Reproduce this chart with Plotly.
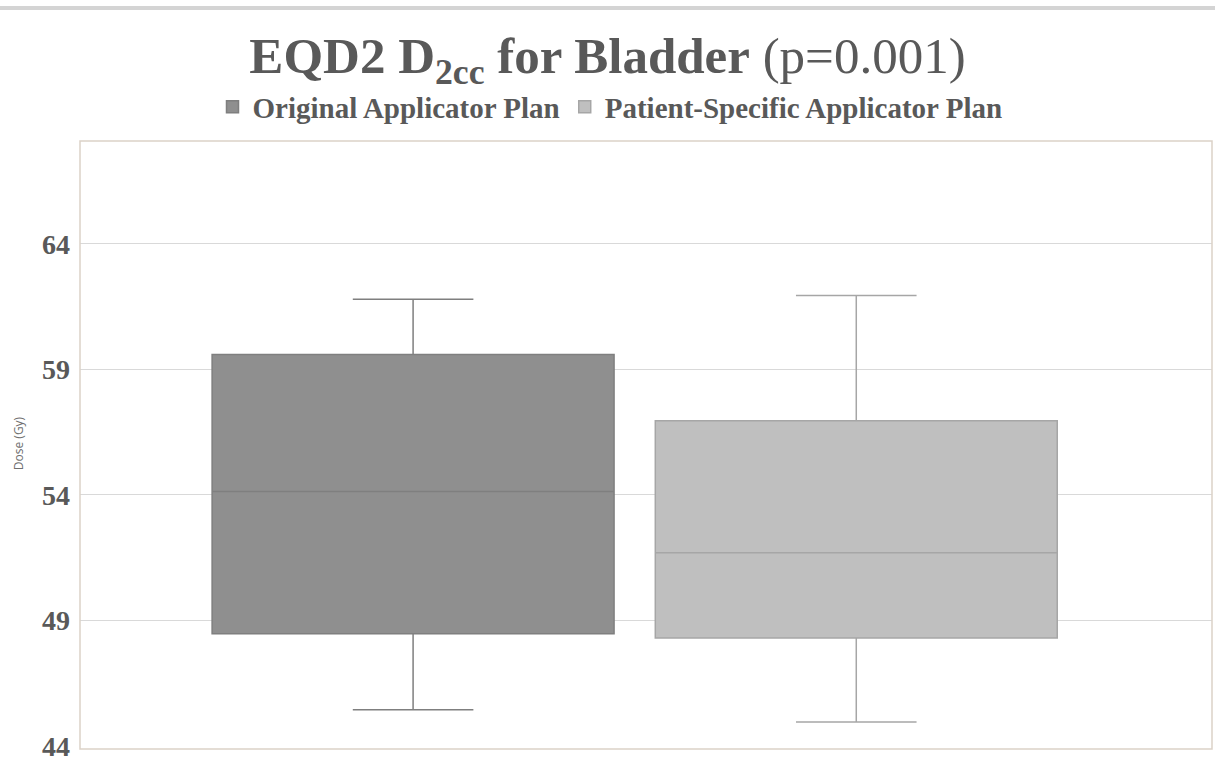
import plotly.graph_objects as go

# EQD2 D2cc bladder dose summary (Gy) per applicator plan
plans = ["Original Applicator Plan", "Patient-Specific Applicator Plan"]
lower_whisker = [45.44, 44.96]
q1_vals = [48.47, 48.30]
median_vals = [54.14, 51.70]
q3_vals = [59.60, 56.96]
upper_whisker = [61.80, 61.95]

fill_colors = ["#8f8f8f", "#bfbfbf"]
line_colors = ["#7f7f7f", "#a6a6a6"]

y_ticks = [44, 49, 54, 59, 64]
category = "Bladder"

fig = go.Figure()
for i, name in enumerate(plans):
    fig.add_trace(go.Box(
        name=name,
        x=[category],
        q1=[q1_vals[i]],
        median=[median_vals[i]],
        q3=[q3_vals[i]],
        lowerfence=[lower_whisker[i]],
        upperfence=[upper_whisker[i]],
        fillcolor=fill_colors[i],
        line=dict(color=line_colors[i], width=1.5),
        whiskerwidth=0.3,
        boxpoints=False,
        hoverinfo="y",
    ))

serif = "Liberation Serif, Times New Roman, serif"
text_color = "#595959"

fig.update_layout(
    width=1215,
    height=761,
    margin=dict(l=80, r=3, t=141, b=15, autoexpand=False),
    paper_bgcolor="white",
    plot_bgcolor="white",
    boxmode="group",
    boxgap=0.217,
    boxgroupgap=0.093,
    title=dict(
        text="<b>EQD2 D<sub>2cc</sub> for Bladder</b> (p=0.001)",
        font=dict(family=serif, size=51, color=text_color),
        x=0.5, xanchor="center",
        y=1 - 55 / 761, yref="container", yanchor="middle",
    ),
    legend=dict(
        orientation="h",
        x=0.5 - 36 / 1132, xanchor="center",
        y=1 - 107 / 761, yref="container", yanchor="middle",
        font=dict(family=serif, size=29, color=text_color, weight="bold"),
        traceorder="normal",
        itemclick=False,
        itemdoubleclick=False,
    ),
    xaxis=dict(
        type="category",
        range=[-0.49, 0.51],
        showticklabels=False,
        showgrid=False,
        zeroline=False,
        showline=False,
        ticks="",
        automargin=False,
    ),
    yaxis=dict(
        range=[44, 68.1],
        tickvals=y_ticks,
        ticktext=[str(v) for v in y_ticks],
        tickfont=dict(family=serif, size=28, color=text_color, weight="bold"),
        ticklabeloverflow="allow",
        automargin=False,
        showgrid=True,
        gridcolor="#d9d9d9",
        gridwidth=1,
        zeroline=False,
        showline=False,
        ticks="",
        ticklabelstandoff=9,
        title=dict(
            text="Dose (Gy)",
            font=dict(family="Open Sans, sans-serif", size=12, color="#6f6f6f"),
            standoff=15,
        ),
    ),
    shapes=[
        # grey rule across the top of the card
        dict(type="line", xref="paper", yref="paper",
             x0=-80 / 1132, x1=1 + 3 / 1132, y0=1 + 133 / 605, y1=1 + 133 / 605,
             line=dict(color="#d4d4d4", width=4)),
        # plot area border
        dict(type="rect", xref="paper", yref="paper",
             x0=0, x1=1, y0=-3 / 605, y1=1,
             line=dict(color="#dcd2c7", width=1.5), layer="above"),
    ],
)

fig.write_html("out.html")
